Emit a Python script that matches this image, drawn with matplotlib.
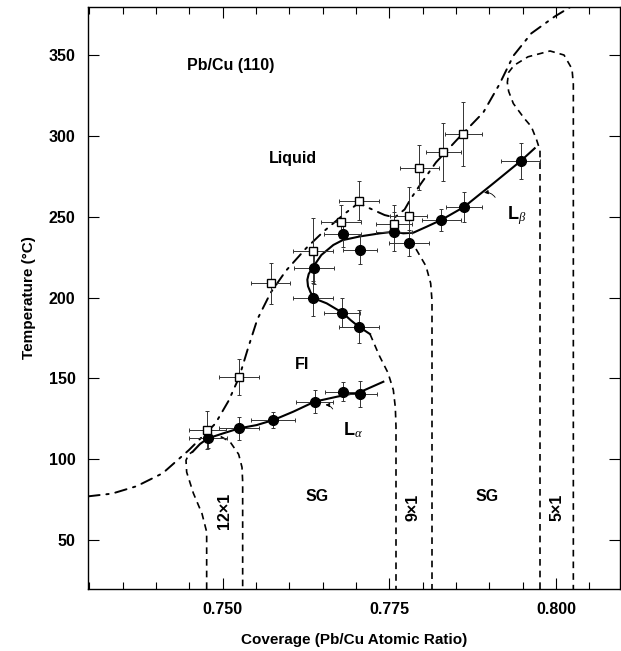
import matplotlib
matplotlib.use('Agg')
import matplotlib.pyplot as plt
from matplotlib.ticker import MultipleLocator, FormatStrFormatter

plt.rcParams['font.family'] = ['Liberation Sans', 'DejaVu Sans']
plt.rcParams['mathtext.fontset'] = 'custom'
plt.rcParams['mathtext.rm'] = 'Liberation Sans'
plt.rcParams['mathtext.bf'] = 'Liberation Sans:bold'
plt.rcParams['mathtext.it'] = 'Liberation Serif:italic'

# liquid boundary (dash-dot)
liq_x = [0.7298, 0.7334, 0.7371, 0.7410, 0.7449, 0.7489, 0.7509, 0.7525, 0.7538,
         0.7552, 0.7572, 0.7595, 0.7625, 0.7651, 0.7682, 0.7704, 0.7715, 0.7743,
         0.7758, 0.7773, 0.7782, 0.7796, 0.7820, 0.7851, 0.7891, 0.7915, 0.7936,
         0.7963, 0.7998, 0.8022]
liq_y = [77, 78.7, 83.3, 91.3, 105.5, 122, 136.2, 151, 168.6, 186.5, 203, 216.6,
         230.4, 240.7, 251.5, 258.5, 256.2, 251, 249.5, 254.5, 261, 269.6, 283.6,
         297.4, 314.5, 331.8, 349.5, 363.4, 373.8, 379.8]

# solid transition curves
up_x = [0.7721, 0.7704, 0.7692, 0.7680, 0.7656, 0.7640, 0.7632, 0.7628, 0.7627,
        0.7629, 0.7634, 0.7640, 0.7648, 0.7666, 0.7680, 0.7706, 0.7736, 0.7757,
        0.7771, 0.7786, 0.7806, 0.7828, 0.7862, 0.7906, 0.7947, 0.7968]
up_y = [177.4, 182, 186, 190.5, 196.4, 199, 203, 207, 211, 214.5, 218, 221.5,
        226.3, 232.5, 235.5, 237.8, 239.7, 240.7, 239.7, 240.1, 243.8, 248, 256,
        270.6, 284.4, 292.3]
lo_x = [0.7455, 0.7466, 0.7478, 0.7501, 0.7525, 0.7551, 0.7576, 0.7606, 0.7638,
        0.7671, 0.7706, 0.7741]
lo_y = [104.6, 109.4, 112.9, 116, 119.1, 121.1, 124.2, 129.4, 135.6, 138.6, 141.5,
        147.9]

# dashed commensurate phase boundaries
b12l_x = [0.7476, 0.7476, 0.7469, 0.7456, 0.7446, 0.7445, 0.7449, 0.7455]
b12l_y = [19.7, 55, 66.3, 79, 92, 99.3, 103, 104.6]
b12r_x = [0.7497, 0.7511, 0.7524, 0.7529, 0.7530, 0.7530]
b12r_y = [114, 110.8, 103, 95, 86, 19.7]
b9l_x = [0.7721, 0.7735, 0.7748, 0.7756, 0.7759, 0.7760, 0.7760]
b9l_y = [177.4, 164, 153.4, 142.8, 132, 120, 19.7]
b9r_x = [0.7790, 0.7805, 0.7812, 0.7814, 0.7814, 0.7814]
b9r_y = [230, 219.4, 208.8, 198, 185, 19.7]
b5_x = [0.7976, 0.7976, 0.7971, 0.7963, 0.7952, 0.7936, 0.7929, 0.7927, 0.7929,
        0.7937, 0.7958, 0.7991, 0.8012, 0.8024, 0.8026, 0.8026]
b5_y = [19.7, 291, 297.4, 305.7, 311, 320, 327.5, 333, 339.3, 343.6, 348.9, 352.5,
        350, 341.4, 332, 19.7]

# measured points
fill_x = [0.7478, 0.7525, 0.7576, 0.7638, 0.7680, 0.7706, 0.7637, 0.7636, 0.7679,
          0.7704, 0.7680, 0.7706, 0.7757, 0.7779, 0.7828, 0.7862, 0.7947]
fill_y = [112.9, 119.1, 124.2, 135.6, 141.8, 140.3, 218.5, 199.5, 190.5, 182, 239,
          229.5, 240.7, 233.5, 248, 256, 284.4]
fill_xerr = [0.0028, 0.0030, 0.0033, 0.0028, 0.0026, 0.0026, 0.0030, 0.0030, 0.0027,
             0.0030, 0.0028, 0.0026, 0.0027, 0.0030, 0.0029, 0.0027, 0.0029]
fill_yerr = [6, 7, 5, 7, 6, 8, 10, 11, 9, 10, 8, 9, 12, 8, 7, 9, 11]

open_x = [0.7477, 0.7525, 0.7572, 0.7636, 0.7678, 0.7704, 0.7757, 0.7779, 0.7795,
          0.7831, 0.7861]
open_y = [118, 151, 208.8, 229, 247, 260, 245.5, 250.5, 280.3, 289.8, 301.1]
open_xerr = [0.0028, 0.0030, 0.0029, 0.0030, 0.0030, 0.0030, 0.0027, 0.0028, 0.0029,
             0.0026, 0.0028]
open_yerr = [12, 11, 12.6, 20, 10, 12, 12, 18, 14, 18, 20]

fig = plt.figure(figsize=(6.21, 6.51), dpi=100)
ax = fig.add_axes([88 / 621, 62 / 651, 532 / 621, 582 / 651])

ax.plot(liq_x, liq_y, color='k', lw=1.4, linestyle=(0, (6, 3.5, 1.2, 3.5)),
        dash_capstyle='round')
ax.plot(up_x, up_y, color='k', lw=1.5)
ax.plot(lo_x, lo_y, color='k', lw=1.5)
for bx, by in [(b12l_x, b12l_y), (b12r_x, b12r_y), (b9l_x, b9l_y),
               (b9r_x, b9r_y), (b5_x, b5_y)]:
    ax.plot(bx, by, color='k', lw=1.2, linestyle=(0, (4, 3)))

ax.errorbar(fill_x, fill_y, xerr=fill_xerr, yerr=fill_yerr, fmt='none',
            ecolor='#333333', elinewidth=0.7, capsize=1.5, capthick=0.7)
ax.errorbar(open_x, open_y, xerr=open_xerr, yerr=open_yerr, fmt='none',
            ecolor='#333333', elinewidth=0.7, capsize=1.5, capthick=0.7)
ax.plot(fill_x, fill_y, 'o', color='k', ms=7)
ax.plot(open_x, open_y, 's', mfc='white', mec='k', mew=1.0, ms=6)

# labels in the diagram
bold = dict(fontweight='bold', fontsize=11.5)
ax.text(0.7446, 343.6, 'Pb/Cu (110)', va='center', **bold)
ax.text(0.7606, 286, 'Liquid', ha='center', va='center', **bold)
ax.text(0.7619, 158.7, 'FI', ha='center', va='center', **bold)
ax.text(0.7926, 251, r'$\mathbf{L}_{\beta}$', fontsize=13, va='center')
ax.text(0.7681, 118, r'$\mathbf{L}_{\alpha}$', fontsize=13, va='center')
ax.text(0.7641, 77, 'SG', ha='center', va='center', **bold)
ax.text(0.7897, 77, 'SG', ha='center', va='center', **bold)
ax.text(0.7503, 68, '12\u00d71', rotation=90, ha='center', va='center', **bold)
ax.text(0.7786, 70.4, '9\u00d71', rotation=90, ha='center', va='center', **bold)
ax.text(0.8001, 70.4, '5\u00d71', rotation=90, ha='center', va='center', **bold)
ax.annotate('', xy=(0.7650, 133.5), xytext=(0.7667, 129.5),
            arrowprops=dict(arrowstyle='-|>', color='k', lw=0.6,
                            mutation_scale=6, connectionstyle='arc3,rad=0.4'))
ax.annotate('', xy=(0.7888, 264.5), xytext=(0.7911, 260.5),
            arrowprops=dict(arrowstyle='-|>', color='k', lw=0.6,
                            mutation_scale=6, connectionstyle='arc3,rad=0.4'))

ax.set_xlim(0.7298, 0.8096)
ax.set_ylim(19.7, 379.7)
ax.set_xticks([0.750, 0.775, 0.800])
ax.xaxis.set_minor_locator(MultipleLocator(0.005))
ax.xaxis.set_major_formatter(FormatStrFormatter('%.3f'))
ax.set_yticks([50, 100, 150, 200, 250, 300, 350])
ax.tick_params(which='both', direction='in', top=True, right=True, width=0.8)
ax.tick_params(which='major', length=8, pad=9, labelsize=11.5)
ax.tick_params(which='minor', length=5)
for lab in ax.get_xticklabels() + ax.get_yticklabels():
    lab.set_fontweight('bold')
for sp in ax.spines.values():
    sp.set_linewidth(1.0)

ax.set_xlabel('Coverage (Pb/Cu Atomic Ratio)', fontsize=11, fontweight='bold',
              labelpad=12)
ax.set_ylabel('Temperature (\u00b0C)', fontsize=11, fontweight='bold', labelpad=9)

fig.savefig('out.png', dpi=100)
